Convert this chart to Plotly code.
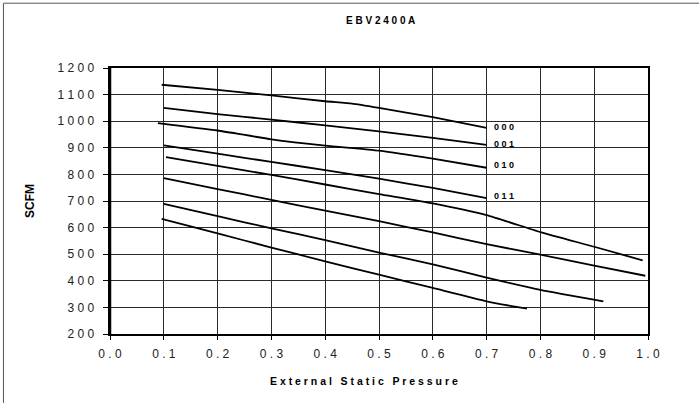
import plotly.graph_objects as go

# ---- data ----
c000_x = [0.096, 0.2, 0.3, 0.4, 0.45, 0.5, 0.6, 0.7]
c000_y = [1137, 1118, 1097, 1075, 1066, 1050, 1015, 975]
c001_x = [0.1, 0.2, 0.3, 0.4, 0.5, 0.6, 0.7]
c001_y = [1050, 1027, 1006, 984, 962, 937, 911]
c010_x = [0.089, 0.2, 0.3, 0.4, 0.5, 0.6, 0.7]
c010_y = [993, 965, 932, 908, 889, 859, 825]
c011_x = [0.1, 0.2, 0.3, 0.4, 0.5, 0.6, 0.7]
c011_y = [909, 878, 847, 816, 784, 749, 711]
c5_x = [0.104, 0.2, 0.3, 0.4, 0.5, 0.6, 0.7, 0.8, 0.9, 0.99]
c5_y = [865, 832, 798, 762, 726, 691, 647, 583, 528, 477]
c6_x = [0.1, 0.2, 0.3, 0.4, 0.5, 0.6, 0.7, 0.8, 0.9, 0.995]
c6_y = [786, 745, 704, 664, 624, 582, 538, 498, 457, 419]
c7_x = [0.1, 0.2, 0.3, 0.4, 0.5, 0.6, 0.7, 0.8, 0.917]
c7_y = [689, 643, 597, 553, 506, 462, 412, 366, 323]
c8_x = [0.096, 0.2, 0.3, 0.4, 0.5, 0.6, 0.7, 0.744, 0.775]
c8_y = [633, 578, 525, 473, 423, 373, 323, 306, 295]

label_text = ["000", "001", "010", "011"]
label_x = [0.71, 0.71, 0.71, 0.71]
label_y = [978, 914, 836, 717]

x_ticks = [0.0, 0.1, 0.2, 0.3, 0.4, 0.5, 0.6, 0.7, 0.8, 0.9, 1.0]
y_ticks = [200, 300, 400, 500, 600, 700, 800, 900, 1000, 1100, 1200]

title_text = "EBV2400A"
x_title = "External Static Pressure"
y_title = "SCFM"


def spaced(s):
    return " ".join(s)


def spaced_words(s):
    return "\u00a0\u00a0\u00a0".join(" ".join(w) for w in s.split(" "))


FONT = "Liberation Sans, Arial, sans-serif"

fig = go.Figure()
series = [(c000_x, c000_y), (c001_x, c001_y), (c010_x, c010_y), (c011_x, c011_y),
          (c5_x, c5_y), (c6_x, c6_y), (c7_x, c7_y), (c8_x, c8_y)]
for xs, ys in series:
    fig.add_trace(go.Scatter(x=xs, y=ys, mode="lines",
                             line=dict(color="black", width=1.8, shape="spline", smoothing=0.5),
                             showlegend=False, hoverinfo="skip"))

for t, lx, ly in zip(label_text, label_x, label_y):
    fig.add_annotation(x=lx, y=ly, text="<b>" + spaced(t) + "</b>", showarrow=False,
                       xanchor="left", yanchor="middle",
                       font=dict(family=FONT, size=9, color="black"))

# x-axis title as an annotation (Excel-style placement)
fig.add_annotation(xref="paper", yref="paper", x=(364 - 110) / 537.7, y=(334.3 - 381) / 266,
                   text="<b>" + spaced_words(x_title) + "</b>", showarrow=False,
                   xanchor="center", yanchor="middle",
                   font=dict(family=FONT, size=10.5, color="black"))

fig.update_layout(
    template="none",
    width=699, height=403,
    margin=dict(l=110, r=51, t=68, b=69, autoexpand=False),
    paper_bgcolor="white", plot_bgcolor="white",
    title=dict(text="<b>" + spaced(title_text) + "</b>", x=0.503, xref="paper", xanchor="center",
               y=1 - 20 / 403, yref="container", yanchor="middle",
               font=dict(family=FONT, size=10, color="black")),
    xaxis=dict(range=[0, 1], tickmode="array", tickvals=x_ticks,
               ticktext=[spaced(f"{v:.1f}") for v in x_ticks],
               showgrid=True, gridcolor="#2a2a2a", gridwidth=1,
               ticks="outside", ticklen=4, tickcolor="black",
               showline=True, linecolor="black", linewidth=1.5, mirror=True,
               zeroline=False, ticklabelstandoff=4,
               tickfont=dict(family=FONT, size=12, color="#222")),
    yaxis=dict(range=[200, 1200], tickmode="array", tickvals=y_ticks,
               ticktext=[spaced(str(v)) + "\u00a0\u00a0" for v in y_ticks],
               showgrid=True, gridcolor="#2a2a2a", gridwidth=1,
               ticks="outside", ticklen=5, tickcolor="black",
               showline=True, linecolor="black", linewidth=1.5, mirror=True,
               zeroline=False,
               tickfont=dict(family=FONT, size=12, color="#222"),
               title=dict(text="<b>" + y_title + "</b>", standoff=20,
                          font=dict(family=FONT, size=12, color="black"))),
)

# thicker left value axis
fig.add_shape(type="line", xref="x", yref="y", x0=0, x1=0, y0=200, y1=1200,
              line=dict(color="black", width=2.5))

# outer chart frame (left and top edges visible)
fig.add_shape(type="line", xref="paper", yref="paper", layer="above",
              x0=(3.5 - 110) / 537.7, x1=2, y0=(334.3 - 3.5) / 266, y1=(334.3 - 3.5) / 266,
              line=dict(color="#555", width=1))
fig.add_shape(type="line", xref="paper", yref="paper", layer="above",
              x0=(3.5 - 110) / 537.7, x1=(3.5 - 110) / 537.7, y0=-1, y1=(334.3 - 3.5) / 266,
              line=dict(color="#555", width=1))

fig.write_html("out.html", config={"displayModeBar": False},
               post_script="document.body.style.margin='0';")
